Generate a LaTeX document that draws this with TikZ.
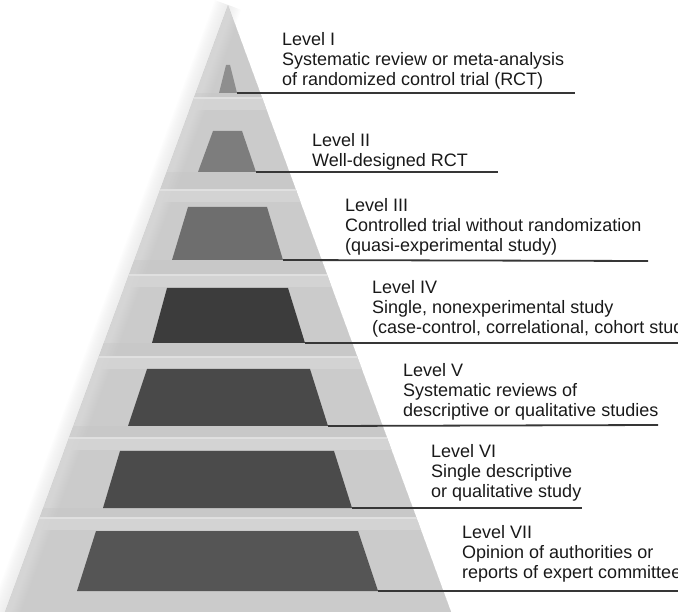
\documentclass[tikz,border=0pt]{standalone}
\usepackage{fontspec}
\setmainfont{Liberation Sans}
\definecolor{body}{HTML}{CBCBCB}
\definecolor{bandface}{HTML}{D5D5D5}
\definecolor{bandline}{HTML}{E2E2E2}
\definecolor{underside}{HTML}{C4C4C4}
\definecolor{halo}{HTML}{E4E4E4}
\definecolor{lvI}{HTML}{8E8E8E}
\definecolor{lvII}{HTML}{7D7D7D}
\definecolor{lvIII}{HTML}{6E6E6E}
\definecolor{lvIV}{HTML}{3C3C3C}
\definecolor{lvV}{HTML}{494949}
\definecolor{lvVI}{HTML}{4B4B4B}
\definecolor{lvVII}{HTML}{555555}
\definecolor{leadcol}{HTML}{363636}
\begin{document}
\begin{tikzpicture}[x=1pt,y=-1pt,
  lbl/.style={anchor=north west, inner sep=0pt, align=left,
    font=\fontsize{18}{20}\selectfont, text=black!90},
  leader/.style={draw=leadcol, line width=1.8pt},
  tier/.style={fill=#1, draw=none}]
\useasboundingbox (0,0) rectangle (678,612);
\begin{scope}
\clip (0,0) rectangle (678,612);
% outline of the pyramid
\coordinate (apex) at (228,5);
\coordinate (bl) at (2,620);
\coordinate (br) at (454,620);
% soft halo along the left flank
\foreach \w in {2,4,...,28}
  \draw[halo, line width=\w pt, opacity=0.07] (apex) -- (bl);
% body
\fill[body] (apex) -- (bl) -- (br) -- cycle;
\begin{scope}
  \clip (apex) -- (bl) -- (br) -- cycle;
  % lighter rim on both flanks, fading inwards
  \foreach \w in {2,4,...,30}
    \draw[white, line width=\w pt, opacity=0.025] (apex) -- (bl);
  \foreach \w in {2,4,...,80}
    \draw[white, line width=\w pt, opacity=0.012] (apex) -- (br);
  % steps between the tiers
  \foreach \ya/\ys in {93/98, 172/190, 260/275, 343/357, 426/438, 508/518} {
    \fill[underside, opacity=0.35] (0,\ya) rectangle (700,\ys);
    \fill[bandface, opacity=0.8] (0,\ys) rectangle (700,\ys+12);
    \draw[bandline, line width=1.6pt, opacity=0.9] (0,\ys) -- (700,\ys);
  }
\end{scope}
% tiers
\coordinate (t1tl) at (226,65);  \coordinate (t1tr) at (230,65);
\coordinate (t1br) at (237,93);  \coordinate (t1bl) at (219,93);
\coordinate (t2tl) at (213,131); \coordinate (t2tr) at (242,131);
\coordinate (t2br) at (256,172); \coordinate (t2bl) at (198,172);
\coordinate (t3tl) at (188,207); \coordinate (t3tr) at (267,207);
\coordinate (t3br) at (283,260); \coordinate (t3bl) at (172,260);
\coordinate (t4tl) at (167,288); \coordinate (t4tr) at (288,288);
\coordinate (t4br) at (305,343); \coordinate (t4bl) at (152,343);
\coordinate (t5tl) at (147,369); \coordinate (t5tr) at (310,369);
\coordinate (t5br) at (328,426); \coordinate (t5bl) at (128,426);
\coordinate (t6tl) at (120,451); \coordinate (t6tr) at (334,451);
\coordinate (t6br) at (352,508); \coordinate (t6bl) at (103,508);
\coordinate (t7tl) at (96,531);  \coordinate (t7tr) at (358,531);
\coordinate (t7br) at (378,591); \coordinate (t7bl) at (77,591);
\foreach \i/\c in {1/lvI, 2/lvII, 3/lvIII, 4/lvIV, 5/lvV, 6/lvVI, 7/lvVII}
  \path[tier=\c] (t\i tl) -- (t\i tr) -- (t\i br) -- (t\i bl) -- cycle;
% leader ends
\coordinate (e1) at (575,93);
\coordinate (e2) at (498,172);
\coordinate (e3) at (648,261);
\coordinate (e4) at (690,343);
\coordinate (e5) at (658,425);
\coordinate (e6) at (582,508);
\coordinate (e7) at (690,591);
\foreach \i in {1,...,7} \draw[leader] (t\i br) -- (e\i);
% labels
\node[lbl] (L1) at (282,32) {Level I\\Systematic review or meta-analysis\\of randomized control trial (RCT)};
\node[lbl] (L2) at (312,133) {Level II\\Well-designed RCT};
\node[lbl] (L3) at (345,198) {Level III\\Controlled trial without randomization\\(quasi-experimental study)};
\node[lbl] (L4) at (372,280) {Level IV\\Single, nonexperimental study\\(case-control, correlational, cohort study)};
\node[lbl] (L5) at (403,363) {Level V\\Systematic reviews of\\descriptive or qualitative studies};
\node[lbl] (L6) at (431,444) {Level VI\\Single descriptive\\or qualitative study};
\node[lbl] (L7) at (462,525) {Level VII\\Opinion of authorities or\\reports of expert committees};
\end{scope}
\end{tikzpicture}
\end{document}
